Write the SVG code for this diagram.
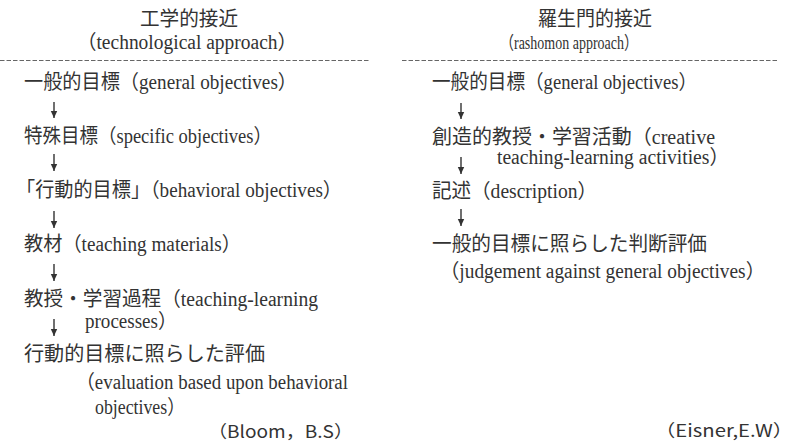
<svg xmlns="http://www.w3.org/2000/svg" width="788" height="445" viewBox="0 0 788 445">
<style>
  .t { font-family: "Liberation Serif", "Noto Sans CJK JP", serif; font-size: 20px; fill: #333; }
  .s { font-family: "Noto Sans CJK JP", "Liberation Sans", sans-serif; font-size: 17px; fill: #333; }
  .dash { stroke: #666; stroke-width: 1; stroke-dasharray: 4.5 2; fill: none; }
  .arr { stroke: #333; stroke-width: 1.4; fill: none; }
</style>
<defs>
  <marker id="ah" markerUnits="userSpaceOnUse" markerWidth="8" markerHeight="8" refX="7" refY="4" orient="auto">
    <path d="M0,0.8 L7,4 L0,7.2 z" fill="#333"/>
  </marker>
</defs>
<rect width="788" height="445" fill="#fff"/>

<g id="left-header">
  <text class="t" x="140" y="26" textLength="98" lengthAdjust="spacingAndGlyphs">工学的接近</text>
  <text class="t" x="77" y="49" textLength="220" lengthAdjust="spacingAndGlyphs">（technological approach）</text>
  <line class="dash" x1="0" y1="60.5" x2="370" y2="60.5"/>
</g>
<g id="right-header">
  <text class="t" x="538" y="26" textLength="114" lengthAdjust="spacingAndGlyphs">羅生門的接近</text>
  <text class="t" x="500" y="49" style="font-size:18px" textLength="138" lengthAdjust="spacingAndGlyphs">（rashomon approach）</text>
  <line class="dash" x1="402" y1="60.5" x2="777" y2="60.5"/>
</g>

<g id="L1"><text class="t" x="24" y="89" textLength="273" lengthAdjust="spacingAndGlyphs">一般的目標（general objectives）</text></g>
<g id="L2"><text class="t" x="24" y="143" textLength="248" lengthAdjust="spacingAndGlyphs">特殊目標（specific objectives）</text></g>
<g id="L3"><text class="t" x="16" y="197" textLength="326" lengthAdjust="spacingAndGlyphs">「行動的目標」（behavioral objectives）</text></g>
<g id="L4"><text class="t" x="24" y="251" textLength="217" lengthAdjust="spacingAndGlyphs">教材（teaching materials）</text></g>
<g id="L5">
  <text class="t" x="24" y="306" textLength="294" lengthAdjust="spacingAndGlyphs">教授・学習過程（teaching-learning</text>
  <text class="t" x="85" y="328" textLength="92" lengthAdjust="spacingAndGlyphs">processes）</text>
</g>
<g id="L6">
  <text class="t" x="24" y="361" textLength="241" lengthAdjust="spacingAndGlyphs">行動的目標に照らした評価</text>
  <text class="t" x="76" y="389" textLength="272" lengthAdjust="spacingAndGlyphs">（evaluation based upon behavioral</text>
  <text class="t" x="95" y="414" textLength="90" lengthAdjust="spacingAndGlyphs">objectives）</text>
</g>
<g id="bloom"><text class="s" x="208" y="438" textLength="145" lengthAdjust="spacingAndGlyphs">（Bloom，B.S）</text></g>

<g id="R1"><text class="t" x="432" y="89" textLength="265" lengthAdjust="spacingAndGlyphs">一般的目標（general objectives）</text></g>
<g id="R2">
  <text class="t" x="432" y="144" textLength="283" lengthAdjust="spacingAndGlyphs">創造的教授・学習活動（creative</text>
  <text class="t" x="497" y="164" textLength="232" lengthAdjust="spacingAndGlyphs">teaching-learning activities）</text>
</g>
<g id="R3"><text class="t" x="432" y="198" textLength="165" lengthAdjust="spacingAndGlyphs">記述（description）</text></g>
<g id="R4">
  <text class="t" x="432" y="251" textLength="275" lengthAdjust="spacingAndGlyphs">一般的目標に照らした判断評価</text>
  <text class="t" x="440" y="278" textLength="325" lengthAdjust="spacingAndGlyphs">（judgement against general objectives）</text>
</g>
<g id="eisner"><text class="s" x="655" y="437" textLength="138" lengthAdjust="spacingAndGlyphs">（Eisner,E.W）</text></g>

<g id="connectors">
  <line class="arr" x1="54" y1="102" x2="54" y2="118" marker-end="url(#ah)"/>
  <line class="arr" x1="54" y1="154" x2="54" y2="171" marker-end="url(#ah)"/>
  <line class="arr" x1="54" y1="211" x2="54" y2="228" marker-end="url(#ah)"/>
  <line class="arr" x1="54" y1="264" x2="54" y2="281" marker-end="url(#ah)"/>
  <line class="arr" x1="54" y1="319" x2="54" y2="336" marker-end="url(#ah)"/>
  <line class="arr" x1="461" y1="103" x2="461" y2="119" marker-end="url(#ah)"/>
  <line class="arr" x1="461" y1="157" x2="461" y2="174" marker-end="url(#ah)"/>
  <line class="arr" x1="461" y1="209" x2="461" y2="226" marker-end="url(#ah)"/>
</g>
</svg>
